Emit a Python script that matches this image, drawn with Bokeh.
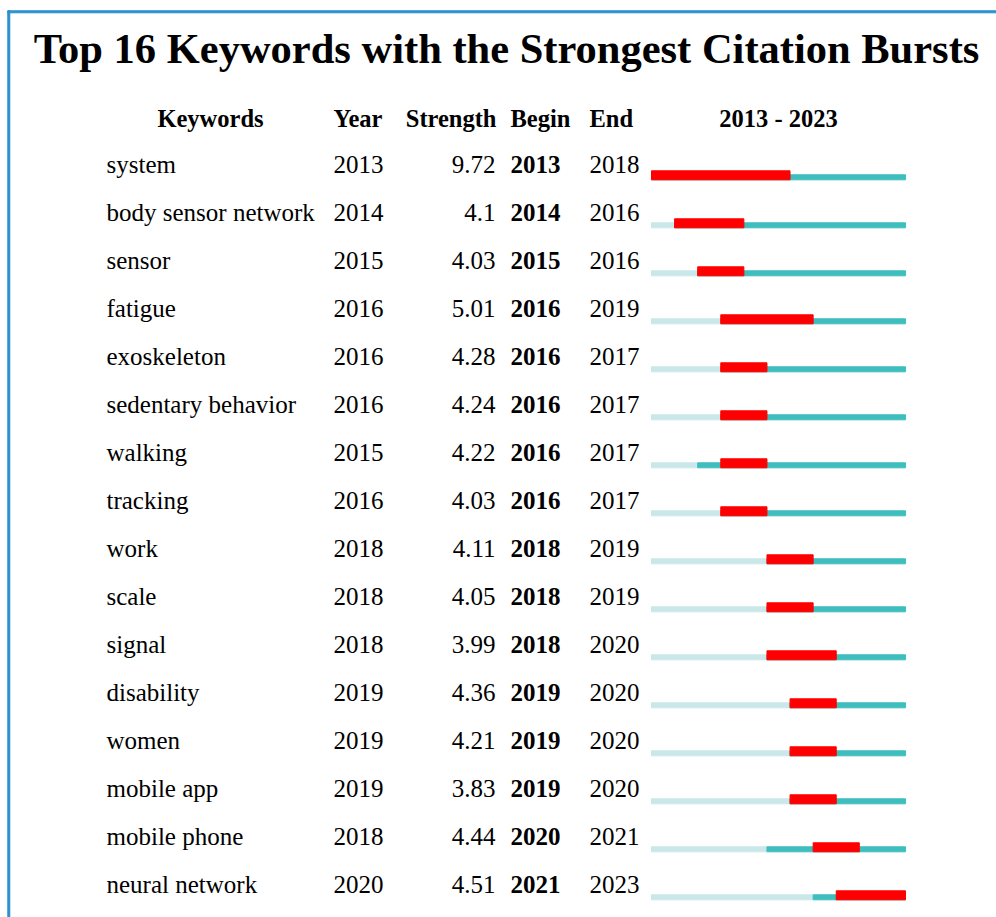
from bokeh.plotting import figure
from bokeh.models import Range1d, ColumnDataSource
from bokeh.core.properties import value
from bokeh.embed import file_html
from bokeh.resources import INLINE

# ---------------- data ----------------
title_text = "Top 16 Keywords with the Strongest Citation Bursts"
headers = ["Keywords", "Year", "Strength", "Begin", "End", "2013 - 2023"]
keywords = ["system", "body sensor network", "sensor", "fatigue", "exoskeleton",
            "sedentary behavior", "walking", "tracking", "work", "scale", "signal",
            "disability", "women", "mobile app", "mobile phone", "neural network"]
years = [2013, 2014, 2015, 2016, 2016, 2016, 2015, 2016, 2018, 2018, 2018,
         2019, 2019, 2019, 2018, 2020]
strengths = [9.72, 4.1, 4.03, 5.01, 4.28, 4.24, 4.22, 4.03, 4.11, 4.05, 3.99,
             4.36, 4.21, 3.83, 4.44, 4.51]
begins = [2013, 2014, 2015, 2016, 2016, 2016, 2016, 2016, 2018, 2018, 2018,
          2019, 2019, 2019, 2020, 2021]
ends = [2018, 2016, 2016, 2019, 2017, 2017, 2017, 2017, 2019, 2019, 2020,
        2020, 2020, 2020, 2021, 2023]
period_start, period_end = 2013, 2023

# ---------------- layout ----------------
W, H = 996, 917
BASE0, ROW_H = 172.0, 48.0          # baseline of first row (px) and row pitch


def ry(px):
    """pixel (from top) -> row units"""
    return (px - BASE0) / ROW_H


BAR_X0, BAR_X1 = 651.0, 905.0
k = (BAR_X1 - BAR_X0) / (period_end + 1 - period_start)
yr0 = period_start - BAR_X0 / k
yr1 = period_start + (W - BAR_X0) / k

p = figure(width=W, height=H, x_range=Range1d(0, W),
           y_range=Range1d(ry(H), ry(0)),
           output_backend="svg", toolbar_location=None,
           x_axis_location=None, y_axis_location=None, min_border=0)
p.grid.visible = False
p.outline_line_color = None
p.background_fill_color = "white"
p.border_fill_color = "white"
p.extra_x_ranges = {"years": Range1d(yr0, yr1)}

n = len(keywords)
rows = list(range(n))
src = ColumnDataSource(dict(
    row=rows,
    kw=keywords,
    year=years,
    year_txt=[str(v) for v in years],
    strength_txt=[str(v) for v in strengths],
    begin=begins,
    begin_txt=[str(v) for v in begins],
    end_txt=[str(v) for v in ends],
    end_excl=[e + 1 for e in ends],
    pstart=[period_start] * n,
    pstop=[period_end + 1] * n,
    line_y=[r + 4.8 / ROW_H for r in rows],
    red_y=[r + 2.8 / ROW_H for r in rows],
))

LIGHT = "#cae8ea"
TEAL = "#3fbebe"
RED = "#ff0000"

p.hbar(y="line_y", height=5 / ROW_H, left="pstart", right="year", source=src,
       color=LIGHT, x_range_name="years")
p.hbar(y="line_y", height=5 / ROW_H, left="year", right="pstop", source=src,
       color=TEAL, x_range_name="years")
p.hbar(y="red_y", height=9 / ROW_H, left="begin", right="end_excl", source=src,
       color=RED, x_range_name="years")

FONT = value("Liberation Serif")
common = dict(source=src, text_font=FONT, text_font_size="25px",
              text_baseline="alphabetic", text_color="black", y_offset=-8)
p.text(x=106, y="row", text="kw", text_align="left", **common)
p.text(x=333, y="row", text="year_txt", text_align="left", **common)
p.text(x=495, y="row", text="strength_txt", text_align="right", **common)
p.text(x=510, y="row", text="begin_txt", text_align="left",
       text_font_style="bold", **common)
p.text(x=589, y="row", text="end_txt", text_align="left", **common)

# headers
hy = ry(126)
hx = [210, 333, 496, 510, 589, (BAR_X0 + BAR_X1) / 2]
ha = ["center", "left", "right", "left", "left", "center"]
for t, x, a in zip(headers, hx, ha):
    p.text(x=[x], y=[hy], text=[t], text_align=a, text_baseline="alphabetic",
           text_font=FONT, text_font_size="24.5px", text_font_style="bold",
           text_color="black", y_offset=-8)

# title
p.text(x=[506], y=[ry(62)], text=[title_text], text_align="center",
       text_baseline="alphabetic", text_font=FONT, text_font_size="42.5px",
       text_font_style="bold", text_color="black", y_offset=-14)

# frame (left and top blue lines)
BLUE = "#2a8fcf"
p.quad(left=[7.3, 7.3], right=[9.3, W], top=[ry(10.3), ry(10.3)],
       bottom=[ry(H), ry(12.3)], color=BLUE)

open("out.html", "w").write(file_html(p, INLINE))
